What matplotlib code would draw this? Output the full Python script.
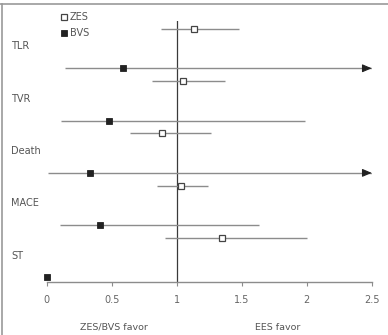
import numpy as np
import matplotlib
matplotlib.use("Agg")
import matplotlib.pyplot as plt
from matplotlib.lines import Line2D
from matplotlib.transforms import blended_transform_factory

plt.rcParams['font.family'] = ['DejaVu Sans']

# ---- data ----
outcomes = ["TLR", "TVR", "Death", "MACE", "ST"]
zes_est = [1.13, 1.05, 0.89, 1.03, 1.35]
zes_lo = [0.88, 0.81, 0.64, 0.85, 0.91]
zes_hi = [1.48, 1.37, 1.26, 1.24, 2.00]
bvs_est = [0.59, 0.48, 0.33, 0.41, 0.0]
bvs_lo = [0.14, 0.11, 0.01, 0.10, np.nan]
bvs_hi = [np.inf, 1.99, np.inf, 1.63, np.nan]  # inf = extends beyond axis (arrow)
xticks = [0, 0.5, 1, 1.5, 2, 2.5]
xticklabels = ["0", "0.5", "1", "1.5", "2", "2.5"]
left_note = "ZES/BVS favor"
right_note = "EES favor"

W, H = 388, 335
fig = plt.figure(figsize=(W / 100, H / 100), dpi=100)
ax = fig.add_axes([46.7 / W, (H - 282.3) / H, 325 / W, 261.3 / H])

XMAX = 2.5
ax.set_xlim(0, XMAX)
ax.set_ylim(4.471, -0.525)

line_c = "#8c8c8c"
off = 0.379
idx = np.arange(len(outcomes))

ax.axvline(1, color="#3a3a3a", lw=0.9, zorder=1)

for i in idx:
    # ZES
    y = i - off
    ax.plot([zes_lo[i], zes_hi[i]], [y, y], color=line_c, lw=1.0, zorder=2, solid_capstyle='butt')
    # BVS
    yb = i + off
    lo, hi = bvs_lo[i], bvs_hi[i]
    if not np.isnan(lo):
        end = XMAX if np.isinf(hi) else hi
        ax.plot([lo, end], [yb, yb], color=line_c, lw=1.0, zorder=2, solid_capstyle='butt')
        if np.isinf(hi):
            ax.annotate("", xy=(XMAX, yb), xytext=(XMAX - 0.06, yb),
                        arrowprops=dict(arrowstyle="-|>,head_length=0.7,head_width=0.3",
                                        color="#222222", lw=0.8, shrinkA=0, shrinkB=0,
                                        mutation_scale=8),
                        annotation_clip=False, zorder=4)

ax.plot(zes_est, idx - off, linestyle="none", marker="s", markersize=4.2,
        markerfacecolor="white", markeredgecolor="#444444", markeredgewidth=0.9,
        zorder=5, clip_on=False, label="ZES")
ax.plot(bvs_est, idx + off, linestyle="none", marker="s", markersize=4.2,
        markerfacecolor="#222222", markeredgecolor="#222222", markeredgewidth=0.6,
        zorder=5, clip_on=False, label="BVS")

# row labels
tr = blended_transform_factory(fig.transFigure, ax.transData)
for i, name in enumerate(outcomes):
    ax.text(11 / W, i - 0.04, name, transform=tr,
            ha="left", va="center", fontsize=7, color="#555555")

# axes styling
for s in ["top", "right", "left"]:
    ax.spines[s].set_visible(False)
ax.spines["bottom"].set_color("#8c8c8c")
ax.spines["bottom"].set_linewidth(1.0)
ax.set_yticks([])
ax.set_xticks(xticks)
ax.set_xticklabels(xticklabels)
ax.tick_params(axis="x", direction="out", length=3, width=0.8, color="#8c8c8c",
               labelsize=7, labelcolor="#666666", pad=6.5)

# legend
leg = fig.legend(loc="upper left", bbox_to_anchor=(61 / W, 1 - 12 / H), frameon=False,
                 fontsize=7, handlelength=0.6, handletextpad=0.3, labelspacing=0.65,
                 borderpad=0, borderaxespad=0, labelcolor="#555555")

# favor notes
fig.text(113.7 / W, 1 - 327 / H, left_note, ha="center", va="center", fontsize=6.8, color="#555555")
fig.text(277.8 / W, 1 - 327 / H, right_note, ha="center", va="center", fontsize=6.8, color="#555555")

# outer frame (top and left)
fig.add_artist(Line2D([0, 1], [1 - 4 / H, 1 - 4 / H], transform=fig.transFigure, color="#999999", lw=1.2))
fig.add_artist(Line2D([2 / W, 2 / W], [0, 1 - 4 / H], transform=fig.transFigure, color="#999999", lw=1.2))

fig.savefig("out.png", dpi=100)
